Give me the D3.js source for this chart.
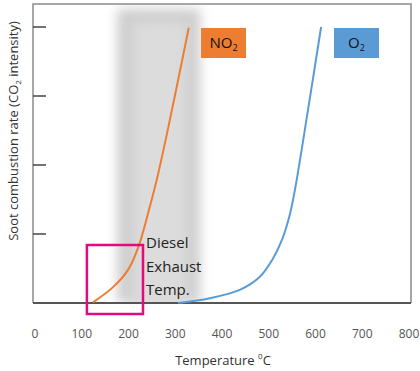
<!DOCTYPE html>
<html>
<head>
    <title>Soot combustion</title>
    <script src="https://d3js.org/d3.v7.min.js"></script>
    <style>
        body { margin: 0; background: #fff; }
        text { font-family: "Open Sans", sans-serif; }
    </style>
</head>
<body>
<svg width="420" height="371"></svg>
<script>
    // temperature (C) / soot combustion rate (arbitrary units, 0-4)
    const no2Temp = [124, 167, 199, 221, 245, 263, 293, 329];
    const no2Rate = [0.01, 0.23, 0.48, 0.81, 1.38, 1.86, 2.8, 3.99];
    const o2Temp = [306, 374, 438, 481, 507, 528, 545, 556, 584, 612];
    const o2Rate = [0, 0.07, 0.19, 0.38, 0.62, 0.91, 1.28, 1.64, 2.8, 4.0];
    const xTicks = [0, 100, 200, 300, 400, 500, 600, 700, 800];
    const yTicks = [1, 2, 3, 4];
    const dieselBand = [176, 353];
    const dieselLines = ["Diesel", "Exhaust", "Temp."];

    const svg = d3.select("svg");

    const x = d3.scaleLinear().domain([0, 800]).range([35, 409]);
    const y = d3.scaleLinear().domain([0, 4]).range([303, 27]);

    // blurred grey band for exhaust temperature
    const defs = svg.append("defs");
    defs.append("filter").attr("id", "blur")
        .attr("x", "-40%").attr("y", "-10%").attr("width", "180%").attr("height", "120%")
        .append("feGaussianBlur").attr("stdDeviation", 6);

    svg.append("rect")
        .attr("x", x(dieselBand[0]))
        .attr("y", 9)
        .attr("width", x(dieselBand[1]) - x(dieselBand[0]))
        .attr("height", 303 - 9)
        .attr("fill", "#cdcdcd")
        .attr("filter", "url(#blur)");
    svg.append("rect")
        .attr("x", x(dieselBand[0]) + 15)
        .attr("y", 22)
        .attr("width", x(dieselBand[1]) - x(dieselBand[0]) - 28)
        .attr("height", 303 - 22)
        .attr("fill", "#dcdcdc")
        .attr("filter", "url(#blur)");

    // white cover outside plot so blur does not bleed
    svg.append("rect").attr("x", 0).attr("y", 304).attr("width", 420).attr("height", 67).attr("fill", "#fff");
    svg.append("rect").attr("x", 0).attr("y", 0).attr("width", 420).attr("height", 4).attr("fill", "#fff");

    // frame
    svg.append("path")
        .attr("d", "M33,303 V4 H411 V303")
        .attr("fill", "none")
        .attr("stroke", "#8a8a8a")
        .attr("stroke-width", 1.5);
    svg.append("line")
        .attr("x1", 33).attr("x2", 411)
        .attr("y1", 303).attr("y2", 303)
        .attr("stroke", "#555")
        .attr("stroke-width", 2);

    // y ticks (inward, no labels)
    svg.selectAll(".ytick")
        .data(yTicks)
        .enter().append("line")
        .attr("class", "ytick")
        .attr("x1", 33).attr("x2", 46)
        .attr("y1", d => y(d)).attr("y2", d => y(d))
        .attr("stroke", "#444")
        .attr("stroke-width", 1.5);

    // x tick labels
    svg.selectAll(".xlab")
        .data(xTicks)
        .enter().append("text")
        .attr("class", "xlab")
        .attr("x", d => x(d))
        .attr("y", 338)
        .attr("text-anchor", "middle")
        .attr("font-size", "12px")
        .attr("fill", "#555")
        .text(d => d);

    // curves
    const line = d3.line()
        .x(d => x(d[0]))
        .y(d => y(d[1]))
        .curve(d3.curveCatmullRom);

    svg.append("path")
        .datum(no2Temp.map((t, i) => [t, no2Rate[i]]))
        .attr("d", line)
        .attr("fill", "none")
        .attr("stroke", "#ED7D31")
        .attr("stroke-width", 2);

    svg.append("path")
        .datum(o2Temp.map((t, i) => [t, o2Rate[i]]))
        .attr("d", line)
        .attr("fill", "none")
        .attr("stroke", "#5B9BD5")
        .attr("stroke-width", 2);

    // legend boxes
    const boxes = [
        {label: "NO", x0: 201, color: "#ED7D31"},
        {label: "O", x0: 334, color: "#5B9BD5"}
    ];
    boxes.forEach(b => {
        svg.append("rect")
            .attr("x", b.x0).attr("y", 28)
            .attr("width", 45).attr("height", 30)
            .attr("fill", b.color);
        const t = svg.append("text")
            .attr("x", b.x0 + 22.5)
            .attr("y", 48)
            .attr("text-anchor", "middle")
            .attr("font-size", "15px")
            .attr("fill", "#111");
        t.append("tspan").text(b.label);
        t.append("tspan").attr("font-size", "9px").attr("dy", 3).text("2");
    });

    // diesel text
    svg.selectAll(".diesel")
        .data(dieselLines)
        .enter().append("text")
        .attr("class", "diesel")
        .attr("x", 146)
        .attr("y", (d, i) => 248 + i * 23.5)
        .attr("font-size", "15px")
        .attr("fill", "#222")
        .text(d => d);

    // magenta highlight box
    svg.append("rect")
        .attr("x", x(111)).attr("y", 245)
        .attr("width", x(231) - x(111))
        .attr("height", 69)
        .attr("fill", "none")
        .attr("stroke", "#E5097F")
        .attr("stroke-width", 2.5);

    // axis titles
    const xt = svg.append("text")
        .attr("x", 223)
        .attr("y", 365)
        .attr("text-anchor", "middle")
        .attr("font-size", "13px")
        .attr("fill", "#333");
    xt.append("tspan").text("Temperature ");
    xt.append("tspan").attr("font-size", "8px").attr("dy", -6).text("0");
    xt.append("tspan").attr("dy", 6).text("C");

    const yt = svg.append("text")
        .attr("transform", "translate(18,131) rotate(-90)")
        .attr("text-anchor", "middle")
        .attr("font-size", "13px")
        .attr("fill", "#333");
    yt.append("tspan").text("Soot combustion rate (CO");
    yt.append("tspan").attr("font-size", "8px").attr("dy", 3).text("2");
    yt.append("tspan").attr("dy", -3).text(" intensity)");
</script>
</body>
</html>
